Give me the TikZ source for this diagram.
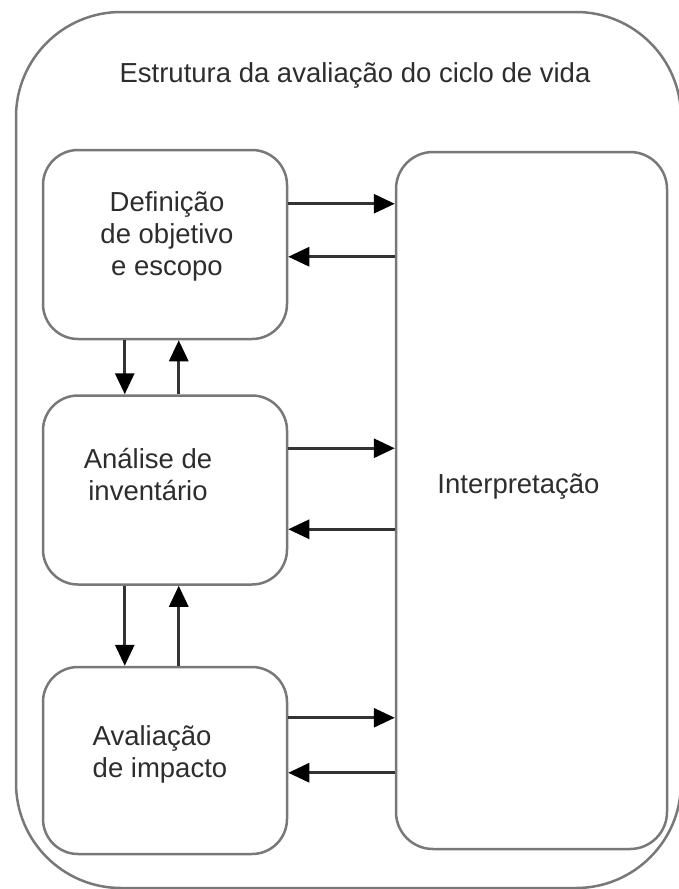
\documentclass[tikz,border=0pt]{standalone}
\usepackage{fontspec}
\setmainfont{Liberation Sans}
\usetikzlibrary{positioning, calc, arrows.meta}
\definecolor{boxgray}{RGB}{120,120,120}
\definecolor{textgray}{RGB}{45,45,45}

\begin{document}
\begin{tikzpicture}[x=1pt, y=1pt,
font=\fontsize{27.5}{32}\selectfont,
stage/.style={rectangle, rounded corners=35pt, draw=boxgray, line width=2.5pt, minimum width=244pt},
caption/.style={text=textgray, align=#1},
caption/.default=center,
interp/.style={rectangle, rounded corners=37pt, draw=boxgray, line width=2.5pt, minimum width=271pt, minimum height=697pt},
path/.style={-{Triangle[length=21pt, width=19pt, color=black]}, line width=3pt, draw=black!80},
]

\useasboundingbox (0,0) rectangle (678,-889);

%Frame
\draw [boxgray, line width=2.5pt, rounded corners=105pt] (16,-12) rectangle (681,-888);
\node [caption] (title) at (355,-75) {Estrutura da avaliação do ciclo de vida};

%Nodes
\node [stage, minimum height=189pt] (def) at (165,-244.5) {};
\node [stage, minimum height=189pt] (inv) [below = 54pt of def] {};
\node [stage, minimum height=187pt] (imp) [below = 80pt of inv] {};
\node [interp] (int) at (531.5,-500.5) {};

\node [caption] (def_t) at ($(def)+(2,8)$) {Definição\\de objetivo\\e escopo};
\node [caption] (inv_t) at ($(inv)+(-17,15)$) {Análise de\\inventário};
\node [caption=left] (imp_t) at ($(imp)+(-5,6)$) {Avaliação\\de impacto};
\node [caption] (int_t) at ($(int)+(-13,14)$) {Interpretação};

% Paths
\coordinate (d1) at ($(def.north east)+(0,-55pt)$);
\coordinate (d2) at ($(def.north east)+(0,-108pt)$);
\coordinate (i1) at ($(inv.north east)+(0,-54pt)$);
\coordinate (i2) at ($(inv.north east)+(0,-135pt)$);
\coordinate (m1) at ($(imp.north east)+(0,-52pt)$);
\coordinate (m2) at ($(imp.north east)+(0,-107pt)$);

\draw [path] (d1) -- (d1 -| int.west);
\draw [path] (d2 -| int.west) -- (d2);
\draw [path] (i1) -- (i1 -| int.west);
\draw [path] (i2 -| int.west) -- (i2);
\draw [path] (m1) -- (m1 -| int.west);
\draw [path] (m2 -| int.west) -- (m2);

\coordinate (dd) at ($(def.south west)+(83pt,0)$);
\coordinate (du) at ($(def.south west)+(137pt,0)$);
\coordinate (id) at ($(inv.south west)+(83pt,0)$);
\coordinate (iu) at ($(inv.south west)+(137pt,0)$);

\draw [path] (dd) -- (dd |- inv.north);
\draw [path] (du |- inv.north) -- (du);
\draw [path] (id) -- (id |- imp.north);
\draw [path] (iu |- imp.north) -- (iu);
\end{tikzpicture}
\end{document}
